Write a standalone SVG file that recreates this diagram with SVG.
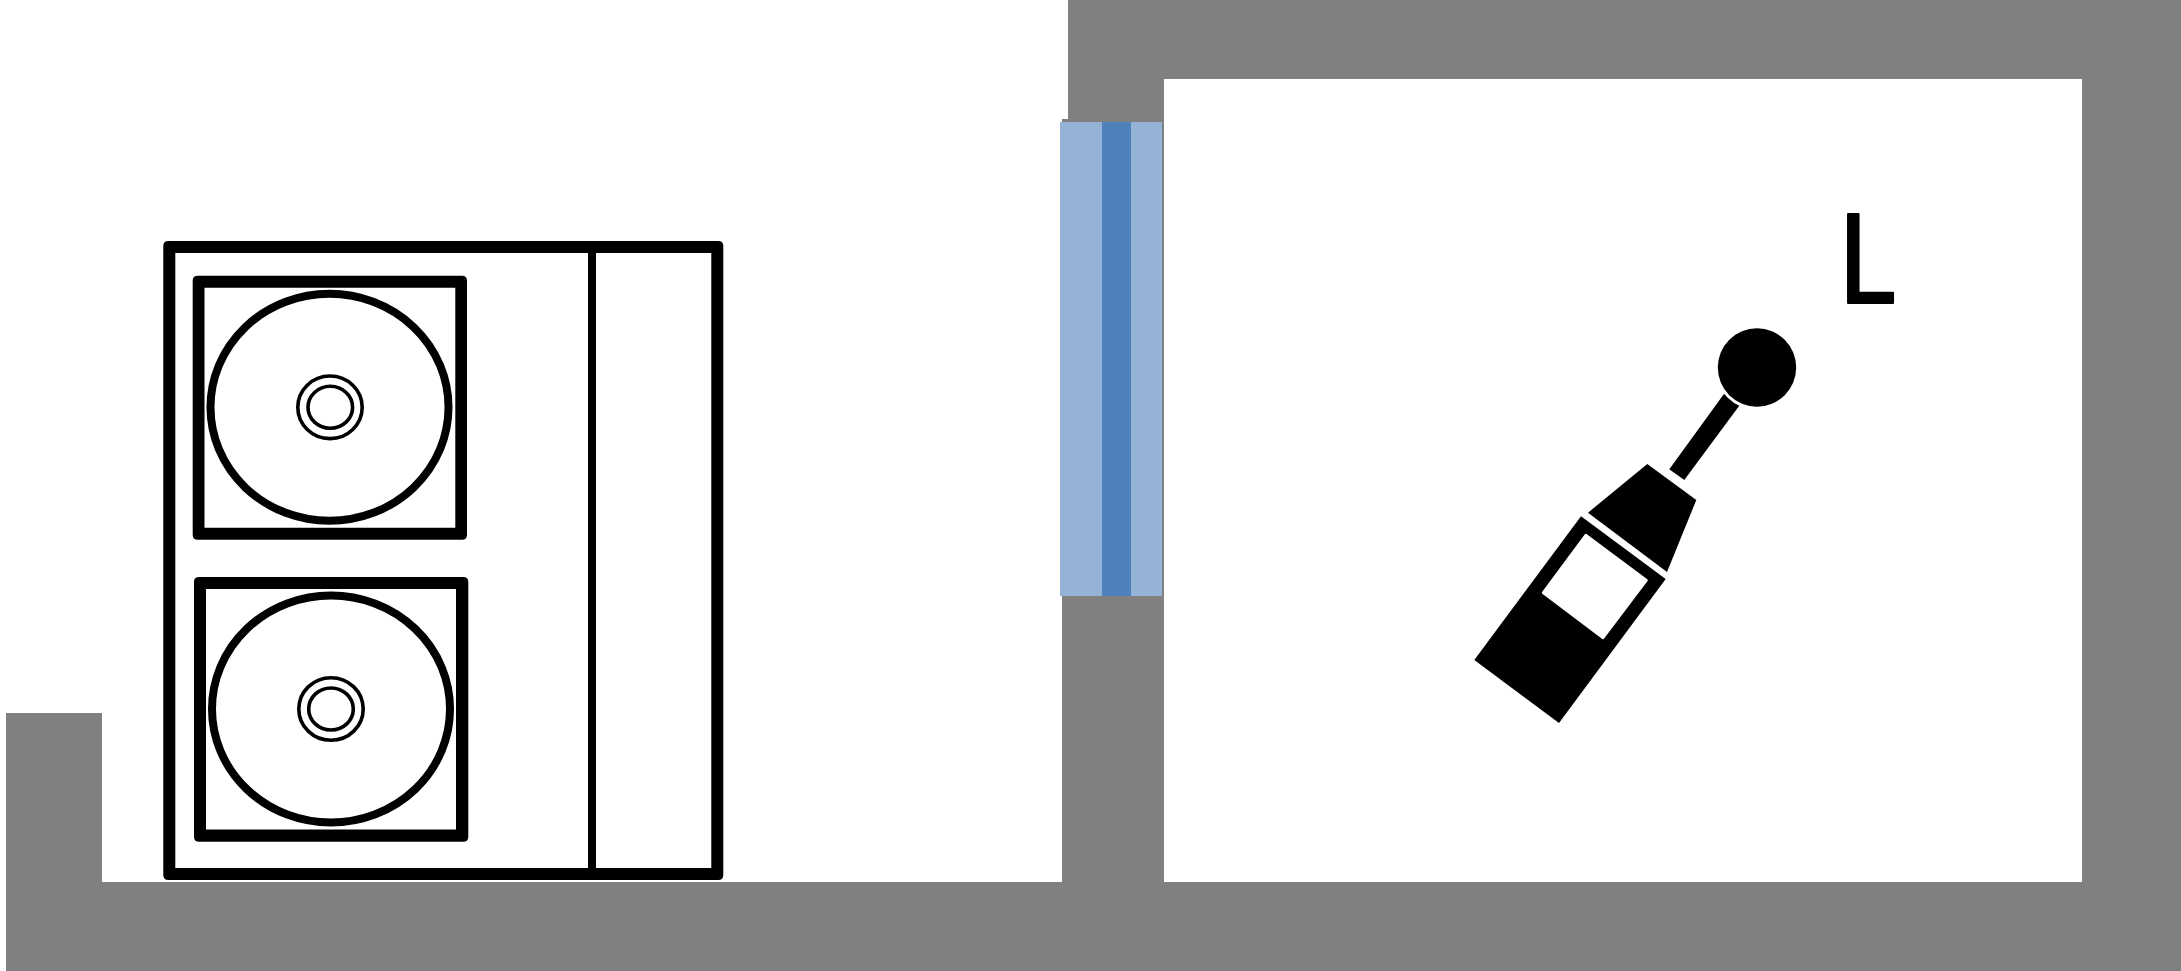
<svg xmlns="http://www.w3.org/2000/svg" width="2181" height="971" viewBox="0 0 2181 971">
<style>
.wall{fill:#808080}
.frame{fill:#000;fill-rule:evenodd}
.fan{fill:none;stroke:#000;stroke-width:8}
.ring{fill:none;stroke:#000;stroke-width:3.6}
.solid{fill:#000}
</style>
<rect width="2181" height="971" fill="#fff"/>
<g id="walls">
<path class="wall" d="M6 713H102V882H1062V119H1068V0H2181V971H6ZM1164 79V882H2082V79Z" fill-rule="evenodd"/>
</g>
<g id="window">
<rect x="1060" y="122" width="102" height="474" fill="#95B3D7"/>
<rect x="1102" y="122" width="29" height="474" fill="#4F81BD"/>
</g>
<g id="outdoor-unit">
<path class="frame" d="M168.3 241H718.3Q723.3 241 723.3 246V875Q723.3 880 718.3 880H168.3Q163.3 880 163.3 875V246Q163.3 241 168.3 241ZM175.3 253V868H711.3V253Z"/>
<rect class="solid" x="588" y="250" width="8" height="620"/>
</g>
<g id="fan-1">
<path class="frame" d="M197.7 275.7H462Q467 275.7 467 280.7V534.7Q467 539.7 462 539.7H197.7Q192.7 539.7 192.7 534.7V280.7Q192.7 275.7 197.7 275.7ZM204.5 287.7V527.7H455.3V287.7Z"/>
<ellipse class="fan" cx="329.5" cy="407.3" rx="119" ry="113.5"/>
<ellipse class="ring" cx="330" cy="407.3" rx="32.2" ry="31.3"/>
<ellipse class="ring" cx="330.3" cy="407.3" rx="22.3" ry="21"/>
</g>
<g id="fan-2">
<path class="frame" d="M199 577H463.3Q468.3 577 468.3 582V836.7Q468.3 841.7 463.3 841.7H199Q194 841.7 194 836.7V582Q194 577 199 577ZM206 589V829.5H456V589Z"/>
<ellipse class="fan" cx="331" cy="709" rx="119" ry="113.5"/>
<ellipse class="ring" cx="331" cy="709" rx="32.2" ry="31.3"/>
<ellipse class="ring" cx="331" cy="709" rx="22.3" ry="21"/>
</g>
<g id="sound-level-meter">
<path class="solid" d="M1581 516.3L1665.7 579L1559 723L1474.3 660Z"/>
<path d="M1585.8 535L1646.6 580.2L1603 638L1543 592.8Z" fill="#fff" stroke="#fff" stroke-width="2.4" stroke-linejoin="round"/>
<path class="solid" d="M1647.3 464L1696.3 500L1667 572L1588 512.7Z"/>
<path class="solid" d="M1669.3 469.3L1684.3 480L1745 398L1729 387Z"/>
<ellipse cx="1757" cy="367.5" rx="39.2" ry="39.2" fill="#000" stroke="#fff" stroke-width="6" paint-order="stroke"/>
</g>
<g id="label-L">
<text transform="translate(1837.8 302.5) scale(.89 1)" font-family="Lato,sans-serif" font-size="125" fill="#000" stroke="#000" stroke-width="2" stroke-linejoin="round">L</text>
</g>
</svg>
